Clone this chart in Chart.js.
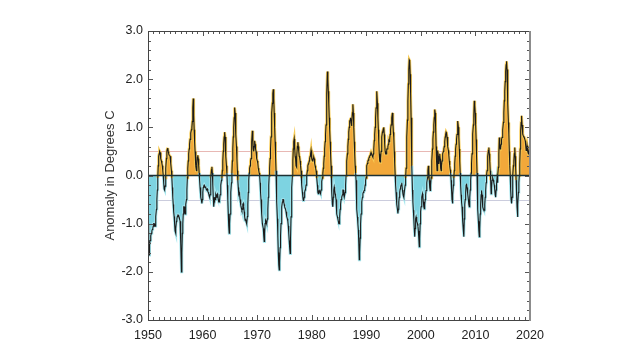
<!DOCTYPE html>
<html>
<head>
<meta charset="utf-8">
<script src="https://cdn.jsdelivr.net/npm/chart.js@4.4.0/dist/chart.umd.min.js"></script>
<style>
    html, body { margin: 0; padding: 0; background: #fff; }
    #wrap { width: 640px; height: 360px; }
</style>
</head>
<body>
<div id="wrap"><canvas id="chart" width="640" height="360"></canvas></div>
<script>
// --- 数据: 月距平 (°C), 每行一年, 1950-2019 ---
const firstYear = 1950;

const anom1950s = [
    -1.0, -1.6, -1.65, -1.45, -1.35, -1.3, -1.25, -1.2, -1.15, -1.12, -1.1, -1.05,
    -1.0, -1.0, -1.05, -1.05, -1.0, -0.85, -0.7, -0.5, -0.3, -0.05, 0.2, 0.4,
    0.45, 0.5, 0.48, 0.4, 0.35, 0.3, 0.25, 0.2, 0.1, 0.0, -0.15, -0.28,
    -0.3, -0.22, -0.05, 0.15, 0.35, 0.5, 0.55, 0.57, 0.5, 0.45, 0.42, 0.42,
    0.4, 0.35, 0.25, 0.1, -0.05, -0.25, -0.45, -0.6, -0.75, -0.85, -1.0, -1.15,
    -1.2, -1.1, -0.95, -0.9, -0.85, -0.82, -0.82, -0.85, -0.86, -0.86, -0.95, -1.15,
    -1.4, -2.0, -1.6, -1.2, -1.0, -0.8, -0.65, -0.65, -0.75, -0.8, -0.7, -0.6,
    -0.5, -0.3, -0.05, 0.15, 0.3, 0.45, 0.55, 0.65, 0.75, 0.82, 0.88, 0.95,
    1.0, 1.12, 1.4, 1.6, 1.25, 0.95, 0.7, 0.5, 0.35, 0.2, 0.1, 0.25,
    0.38, 0.42, 0.35, 0.2, 0.05, -0.1, -0.25, -0.35, -0.45, -0.52, -0.58, -0.5
];
const anom1960s = [
    -0.35, -0.25, -0.22, -0.2, -0.22, -0.25, -0.23, -0.25, -0.3, -0.3, -0.28, -0.33,
    -0.35, -0.38, -0.42, -0.45, -0.4, -0.25, -0.05, 0.12, 0.18, 0.05, -0.2, -0.45,
    -0.65, -0.55, -0.45, -0.5, -0.42, -0.4, -0.45, -0.4, -0.38, -0.42, -0.5, -0.55,
    -0.55, -0.5, -0.4, -0.3, -0.2, -0.1, -0.05, 0.1, 0.3, 0.5, 0.65, 0.8,
    0.9, 0.8, 0.6, 0.4, 0.2, 0.05, -0.2, -0.5, -0.8, -1.05, -1.2, -1.0,
    -0.8, -0.6, -0.35, -0.15, 0.05, 0.3, 0.55, 0.8, 1.0, 1.2, 1.41, 1.3,
    1.1, 0.85, 0.6, 0.35, 0.1, -0.1, -0.25, -0.38, -0.35, -0.4, -0.5, -0.6,
    -0.62, -0.68, -0.72, -0.7, -0.6, -0.58, -0.65, -0.75, -0.85, -0.93, -0.9, -0.95,
    -0.95, -1.0, -0.85, -0.6, -0.35, -0.1, 0.05, 0.15, 0.2, 0.3, 0.35, 0.45,
    0.7, 0.93, 0.75, 0.55, 0.5, 0.6, 0.72, 0.65, 0.55, 0.5, 0.45, 0.35
];
const anom1970s = [
    0.3, 0.25, 0.15, 0.1, 0.05, 0.0, -0.15, -0.35, -0.5, -0.6, -0.8, -1.0,
    -1.0, -1.1, -1.25, -1.37, -1.2, -1.0, -0.93, -0.95, -1.0, -1.0, -0.9, -0.7,
    -0.45, -0.2, 0.0, 0.15, 0.35, 0.55, 0.8, 1.05, 1.3, 1.5, 1.7, 1.79,
    1.6, 1.3, 1.0, 0.7, 0.4, 0.1, -0.2, -0.55, -0.9, -1.25, -1.6, -1.85,
    -1.96, -1.8, -1.5, -1.25, -1.0, -0.8, -0.65, -0.55, -0.5, -0.5, -0.55, -0.6,
    -0.65, -0.68, -0.7, -0.75, -0.8, -0.85, -0.9, -0.95, -1.05, -1.2, -1.35, -1.5,
    -1.62, -1.3, -0.86, -0.5, -0.25, 0.0, 0.3, 0.55, 0.7, 0.76, 0.6, 0.4,
    0.35, 0.2, 0.17, 0.4, 0.6, 0.69, 0.6, 0.5, 0.4, 0.38, 0.3, 0.2,
    0.1, -0.05, -0.2, -0.35, -0.45, -0.52, -0.5, -0.45, -0.35, -0.3, -0.28, -0.2,
    -0.1, 0.0, 0.1, 0.2, 0.24, 0.25, 0.3, 0.35, 0.4, 0.45, 0.52, 0.45
];
const anom1980s = [
    0.35, 0.3, 0.32, 0.36, 0.38, 0.35, 0.25, 0.2, 0.15, 0.1, 0.05, -0.05,
    -0.2, -0.35, -0.38, -0.33, -0.31, -0.33, -0.36, -0.38, -0.3, -0.2, -0.12, -0.05,
    0.05, 0.15, 0.25, 0.4, 0.55, 0.7, 0.85, 1.05, 1.35, 1.7, 2.16, 2.0,
    1.75, 1.5, 1.2, 0.95, 0.7, 0.45, 0.2, -0.05, -0.35, -0.6, -0.65, -0.45,
    -0.3, -0.24, -0.3, -0.38, -0.42, -0.5, -0.65, -0.8, -0.86, -0.9, -0.95, -1.0,
    -1.0, -0.85, -0.7, -0.6, -0.5, -0.45, -0.45, -0.4, -0.3, -0.3, -0.4, -0.45,
    -0.45, -0.35, -0.2, 0.0, 0.15, 0.3, 0.45, 0.6, 0.75, 0.9, 1.0, 1.13,
    1.15, 1.2, 1.1, 1.03, 1.1, 1.3, 1.48, 1.3, 1.0, 0.7, 0.45, 0.2,
    0.05, -0.1, -0.4, -0.7, -0.86, -1.0, -1.13, -1.4, -1.75, -1.6, -1.3, -1.0,
    -0.8, -0.65, -0.55, -0.45, -0.38, -0.35, -0.33, -0.31, -0.28, -0.2, -0.1, -0.05
];
const anom1990s = [
    0.05, 0.2, 0.25, 0.3, 0.32, 0.35, 0.38, 0.4, 0.42, 0.45, 0.48, 0.48,
    0.48, 0.4, 0.38, 0.45, 0.55, 0.72, 0.85, 1.0, 1.2, 1.4, 1.6, 1.75,
    1.5, 1.2, 0.95, 0.7, 0.45, 0.3, 0.28, 0.35, 0.5, 0.65, 0.8, 0.9,
    0.93, 0.97, 1.0, 0.85, 0.65, 0.5, 0.45, 0.45, 0.5, 0.55, 0.55, 0.6,
    0.65, 0.72, 0.7, 0.75, 0.85, 0.95, 1.05, 1.13, 1.2, 1.3, 1.1, 0.9,
    0.79, 0.5, 0.25, 0.0, -0.2, -0.35, -0.5, -0.6, -0.7, -0.79, -0.7, -0.55,
    -0.45, -0.35, -0.28, -0.24, -0.2, -0.18, -0.15, -0.3, -0.38, -0.42, -0.45, -0.35,
    -0.35, -0.2, -0.05, 0.15, 0.45, 0.8, 1.15, 1.55, 1.9, 2.2, 2.4, 2.38,
    2.1, 1.7, 1.2, 0.7, 0.2, -0.3, -0.55, -0.72, -0.9, -1.1, -1.27, -1.1,
    -0.9, -0.86, -0.9, -0.95, -1.0, -1.05, -1.15, -1.3, -1.48, -1.3, -1.0, -0.75
];
const anom2000s = [
    -0.65, -0.55, -0.45, -0.38, -0.45, -0.55, -0.65, -0.69, -0.6, -0.5, -0.4, -0.31,
    -0.25, -0.15, -0.05, 0.1, 0.2, 0.1, -0.1, -0.25, -0.31, -0.2, -0.05, 0.1,
    0.3, 0.55, 0.75, 0.9, 1.05, 1.2, 1.37, 1.3, 1.0, 0.6, 0.3, 0.1,
    0.35, 0.52, 0.4, 0.24, 0.35, 0.45, 0.35, 0.15, 0.1, 0.2, 0.3, 0.4,
    0.45, 0.5, 0.55, 0.6, 0.7, 0.8, 0.85, 0.9, 0.88, 0.8, 0.7, 0.6,
    0.52, 0.42, 0.3, 0.2, 0.12, 0.05, -0.1, -0.3, -0.5, -0.58, -0.4, -0.2,
    -0.05, 0.1, 0.25, 0.4, 0.55, 0.65, 0.75, 0.85, 0.95, 1.13, 1.0, 0.8,
    0.55, 0.3, 0.05, -0.2, -0.4, -0.55, -0.65, -0.79, -0.95, -1.15, -1.27, -0.9,
    -0.6, -0.5, -0.35, -0.2, -0.17, -0.25, -0.32, -0.38, -0.5, -0.6, -0.65, -0.45,
    -0.3, -0.1, 0.05, 0.25, 0.45, 0.65, 0.86, 1.05, 1.25, 1.55, 1.45, 1.3
];
const anom2010s = [
    1.05, 0.75, 0.4, 0.05, -0.35, -0.7, -0.95, -1.15, -1.27, -1.1, -0.8, -0.6,
    -0.4, -0.31, -0.4, -0.55, -0.65, -0.7, -0.72, -0.72, -0.6, -0.45, -0.31, -0.15,
    0.0, 0.1, 0.25, 0.4, 0.52, 0.58, 0.45, 0.3, 0.1, -0.1, -0.38, -0.25,
    -0.1, -0.05, -0.05, -0.1, -0.15, -0.2, -0.3, -0.4, -0.45, -0.3, -0.17, -0.05,
    -0.15, 0.0, 0.17, 0.45, 0.79, 0.65, 0.55, 0.58, 0.65, 0.75, 0.79, 0.85,
    0.95, 1.1, 1.3, 1.55, 1.75, 1.95, 2.16, 2.3, 2.37, 2.2, 1.9, 1.5,
    1.1, 0.86, 0.5, 0.2, 0.0, -0.3, -0.5, -0.58, -0.45, -0.25, 0.0, 0.2,
    0.3, 0.45, 0.58, 0.4, 0.15, -0.1, -0.4, -0.65, -0.86, -0.6, -0.35, -0.15,
    0.0, 0.25, 0.55, 0.93, 1.1, 1.24, 1.05, 0.95, 0.86, 0.82, 0.8, 0.79,
    0.79, 0.72, 0.62, 0.52, 0.55, 0.62, 0.58, 0.5, 0.45, 0.5, 0.55, 0.6
];

// 刻度标签
const yearTicks = [1950, 1960, 1970, 1980, 1990, 2000, 2010, 2020];
const anomalyTicks = [-3, -2, -1, 0, 1, 2, 3];
const thresholds = [0.5, -0.5];

// --- 样式 ---
const FONT = "'Liberation Sans', Arial, Helvetica, sans-serif";
const WARM = '#F2A83A';
const COOL = '#7DD3E1';
const WARM_EDGE = '#F8CC55';
const COOL_EDGE = '#A9E8EF';

const anomaly = [].concat(anom1950s, anom1960s, anom1970s, anom1980s, anom1990s, anom2000s, anom2010s);
const points = anomaly.map((v, i) => ({ x: firstYear + (i + 0.5) / 12, y: v }));

// 边框, 内向刻度, 参考线
const framePlugin = {
    id: 'frame',
    beforeDatasetsDraw(chart) {
        const { ctx, chartArea: a, scales: { y } } = chart;
        ctx.save();
        ctx.lineWidth = 1;
        thresholds.forEach(t => {
            const py = Math.round(y.getPixelForValue(t)) + 0.5;
            ctx.strokeStyle = t > 0 ? '#E8B8B4' : '#CBCCDD';
            ctx.beginPath();
            ctx.moveTo(a.left, py);
            ctx.lineTo(a.right, py);
            ctx.stroke();
        });
        ctx.restore();
    },
    afterDatasetsDraw(chart) {
        const { ctx, chartArea: a, scales: { x, y } } = chart;
        ctx.save();
        // 零线
        const y0 = y.getPixelForValue(0);
        ctx.strokeStyle = '#1d3034';
        ctx.lineWidth = 1.6;
        ctx.beginPath();
        ctx.moveTo(a.left, y0);
        ctx.lineTo(a.right, y0);
        ctx.stroke();

        // 刻度
        ctx.strokeStyle = '#555';
        ctx.lineWidth = 1;
        ctx.beginPath();
        for (let yr = 1950; yr <= 2020; yr++) {
            const px = Math.round(x.getPixelForValue(yr)) + 0.5;
            const len = yr % 10 === 0 ? 5 : 3;
            ctx.moveTo(px, a.bottom); ctx.lineTo(px, a.bottom - len);
            ctx.moveTo(px, a.top); ctx.lineTo(px, a.top + len);
        }
        for (let k = -15; k <= 15; k++) {
            const py = Math.round(y.getPixelForValue(k / 5)) + 0.5;
            const len = k % 5 === 0 ? 5 : 3;
            ctx.moveTo(a.left, py); ctx.lineTo(a.left + len, py);
            ctx.moveTo(a.right, py); ctx.lineTo(a.right - len, py);
        }
        ctx.stroke();

        // 边框
        ctx.strokeStyle = '#444';
        ctx.beginPath();
        ctx.moveTo(a.right, a.top + 0.5);
        ctx.lineTo(a.left + 0.5, a.top + 0.5);
        ctx.lineTo(a.left + 0.5, a.bottom + 0.5);
        ctx.lineTo(a.right, a.bottom + 0.5);
        ctx.stroke();
        ctx.strokeStyle = '#8c8c8c';
        ctx.lineWidth = 2;
        ctx.beginPath();
        ctx.moveTo(a.right, a.top);
        ctx.lineTo(a.right, a.bottom + 1);
        ctx.stroke();
        ctx.restore();
    }
};

new Chart(document.getElementById('chart'), {
    type: 'line',
    data: {
        datasets: [
            {
                data: points,
                borderColor: '#1b1b1b',
                borderWidth: 1.1,
                pointRadius: 0,
                fill: false,
                order: 0
            },
            {
                data: points,
                borderWidth: 2.8,
                pointRadius: 0,
                segment: {
                    borderColor: c => (c.p0.parsed.y + c.p1.parsed.y) >= 0 ? WARM_EDGE : COOL_EDGE
                },
                fill: { target: 'origin', above: WARM, below: COOL },
                order: 1
            }
        ]
    },
    options: {
        responsive: false,
        animation: false,
        devicePixelRatio: 1,
        layout: { padding: { left: 100, right: 110, top: 31, bottom: 0 } },
        plugins: { legend: { display: false }, tooltip: { enabled: false } },
        scales: {
            x: {
                type: 'linear',
                min: yearTicks[0],
                max: yearTicks[yearTicks.length - 1],
                grid: { display: false, drawTicks: false },
                border: { display: false },
                afterBuildTicks: s => { s.ticks = yearTicks.map(v => ({ value: v })); },
                ticks: {
                    autoSkip: false,
                    maxRotation: 0,
                    padding: 8,
                    color: '#222',
                    font: { family: FONT, size: 12.5 },
                    callback: v => String(v)
                },
                afterFit: s => { s.height = 40; }
            },
            y: {
                min: anomalyTicks[0],
                max: anomalyTicks[anomalyTicks.length - 1],
                grid: { display: false, drawTicks: false },
                border: { display: false },
                afterBuildTicks: s => { s.ticks = anomalyTicks.map(v => ({ value: v })); },
                ticks: {
                    padding: 5,
                    color: '#222',
                    font: { family: FONT, size: 12.5 },
                    callback: v => v.toFixed(1)
                },
                title: {
                    display: true,
                    text: 'Anomaly in Degrees C',
                    color: '#333',
                    padding: { top: 3, bottom: 0 },
                    font: { family: FONT, size: 13 }
                },
                afterFit: s => { s.width = 48; }
            }
        }
    },
    plugins: [framePlugin]
});
</script>
</body>
</html>
